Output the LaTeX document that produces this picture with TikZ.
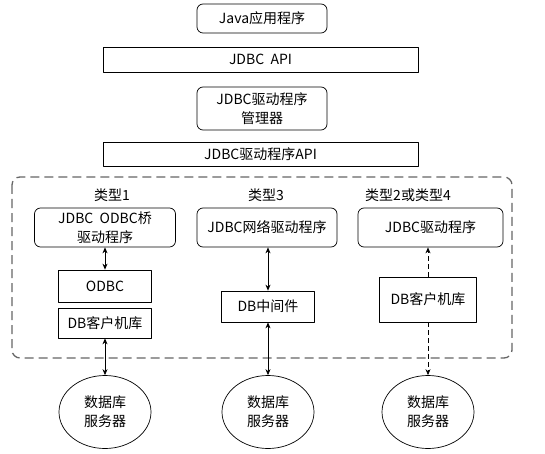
\documentclass[tikz,border=0pt]{standalone}
\usepackage{fontspec}
\setmainfont{Noto Sans CJK SC}
\usetikzlibrary{shapes.geometric,arrows.meta}
\begin{document}
\begin{tikzpicture}[>={Stealth[length=6pt,width=5pt]}, x=1pt, y=-1pt, line join=round, line width=0.7pt,
    font=\fontsize{14}{19}\selectfont,
    rbox/.style={draw, rounded corners=6pt, align=center, inner sep=0pt},
    sbox/.style={draw, align=center, inner sep=0pt},
    dbsrv/.style={draw, ellipse, align=center, inner sep=0pt, minimum width=92pt, minimum height=73pt}]
    \useasboundingbox (0,0) rectangle (545,454);
    % top layers
    \node[rbox, minimum width=130pt, minimum height=29pt] (app) at (262,18.5) {Java应用程序};
    \node[sbox, minimum width=315pt, minimum height=25pt] (jdbcapi) at (260.5,59.5) {JDBC\ \ API};
    \node[rbox, minimum width=130pt, minimum height=43pt] (mgr) at (262,108.5) {JDBC驱动程序\\管理器};
    \node[sbox, minimum width=315pt, minimum height=24pt] (drvapi) at (260.5,154) {JDBC驱动程序API};
    % driver types
    \draw[black!60, line width=1.3pt, dash pattern=on 9pt off 5pt, rounded corners=8pt] (12,177) rectangle (512,358);
    \node (t1) at (112,195) {类型1};
    \node (t3) at (266,195) {类型3};
    \node (t24) at (408,195) {类型2或类型4};
    \node[rbox, minimum width=141pt, minimum height=39pt] (bridge) at (105,227.5) {JDBC\ \ ODBC桥\\驱动程序};
    \node[rbox, minimum width=140pt, minimum height=39pt] (netdrv) at (267,227.5) {JDBC网络驱动程序};
    \node[rbox, minimum width=145pt, minimum height=39pt] (natdrv) at (430.5,227.5) {JDBC驱动程序};
    \node[sbox, minimum width=93pt, minimum height=32pt] (odbc) at (105,286) {ODBC};
    \node[sbox, minimum width=93pt, minimum height=30pt] (cli1) at (105,323) {DB客户机库};
    \node[sbox, minimum width=93pt, minimum height=31pt] (mid) at (268,306.5) {DB中间件};
    \node[sbox, minimum width=97pt, minimum height=45pt] (cli2) at (428,299.5) {DB客户机库};
    % database servers
    \node[dbsrv] (srv1) at (105,412) {数据库\\服务器};
    \node[dbsrv] (srv3) at (268,412) {数据库\\服务器};
    \node[dbsrv] (srv24) at (428,412) {数据库\\服务器};
    \draw[<->] (bridge) -- (odbc);
    \draw[<->] (cli1) -- (srv1);
    \draw[<->] (netdrv.south -| mid) -- (mid);
    \draw[<->] (mid) -- (srv3);
    \draw[->, dash pattern=on 5pt off 3pt] (cli2) -- (cli2 |- natdrv.south);
    \draw[->, dash pattern=on 5pt off 3pt] (cli2) -- (srv24);
\end{tikzpicture}
\end{document}
